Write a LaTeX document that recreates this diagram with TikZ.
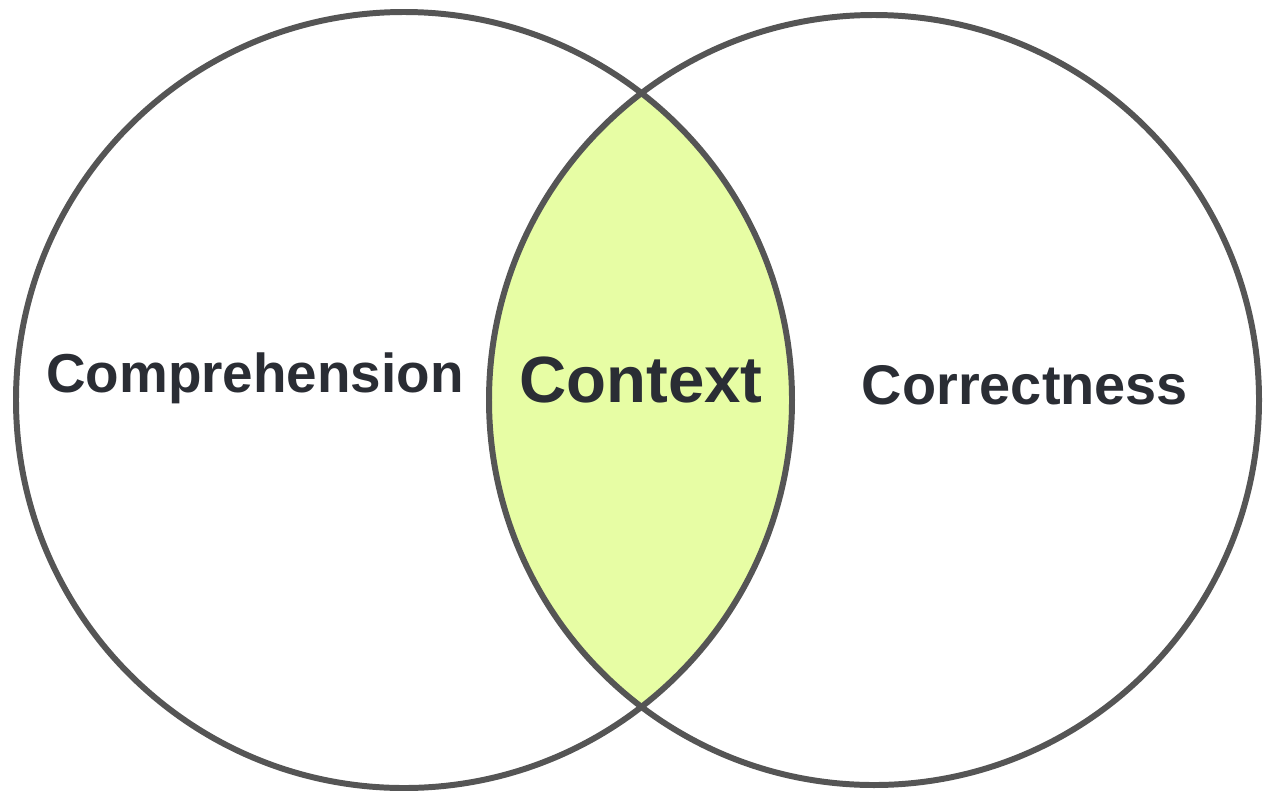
\documentclass[tikz,border=0pt]{standalone}
\usepackage{fontspec}
\setmainfont{Liberation Sans}
\definecolor{ringgray}{HTML}{555555}
\definecolor{lime}{HTML}{E7FDA4}
\definecolor{ink}{HTML}{2A2D34}
\begin{document}
\begin{tikzpicture}[ring/.style={ringgray,line width=1.7pt},lbl/.style={ink,font=\bfseries\fontsize{15.6}{18}\selectfont}]
\useasboundingbox(0,0)rectangle(12.65,7.9);
\begin{scope}
\clip(4.04,3.9)circle(3.88);
\fill[lime](8.74,3.9)circle(3.85);
\end{scope}
\draw[ring](4.04,3.9)circle(3.88);
\draw[ring](8.74,3.9)circle(3.85);
\node[lbl](comp) at (2.55,4.12){Comprehension};
\node[lbl,font=\bfseries\fontsize{18.6}{22}\selectfont](ctx) at (6.41,4.1){Context};
\node[lbl,font=\bfseries\fontsize{15.9}{18}\selectfont](corr) at (10.25,4.05){Correctness};

\end{tikzpicture}
\end{document}
